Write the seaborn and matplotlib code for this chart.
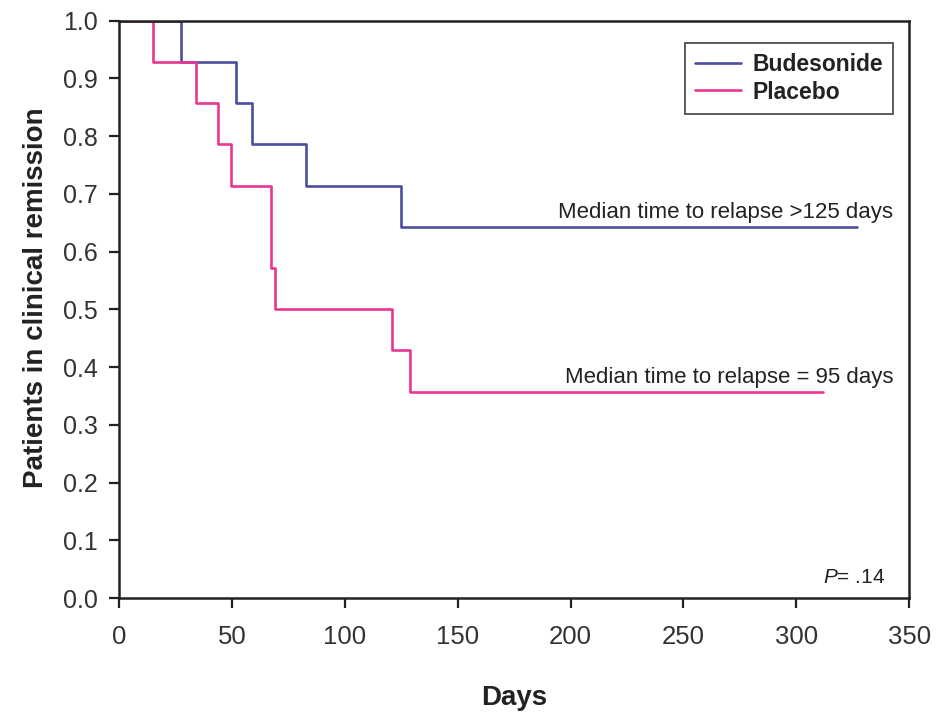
import matplotlib
matplotlib.use("Agg")
import matplotlib.pyplot as plt
import seaborn as sns
import pandas as pd

# ---- data ----
bud_days = [0, 27.5, 52, 59, 83, 125, 327]
bud_surv = [1.0, 0.929, 0.857, 0.786, 0.714, 0.643, 0.643]
pla_days = [0, 15, 34, 44, 49.5, 67.5, 69, 121, 129, 312]
pla_surv = [1.0, 0.929, 0.857, 0.786, 0.714, 0.571, 0.5, 0.429, 0.357, 0.357]
groups = ["Budesonide", "Placebo"]
colors = ["#4B4E9E", "#E8368F"]
x_ticks = [0, 50, 100, 150, 200, 250, 300, 350]
y_ticks = [0.0, 0.1, 0.2, 0.3, 0.4, 0.5, 0.6, 0.7, 0.8, 0.9, 1.0]

df = pd.concat([
    pd.DataFrame({"Days": bud_days, "Surv": bud_surv, "Group": groups[0]}),
    pd.DataFrame({"Days": pla_days, "Surv": pla_surv, "Group": groups[1]}),
], ignore_index=True)

sns.set_style("ticks")
plt.rcParams["font.family"] = ["Liberation Sans", "DejaVu Sans"]
plt.rcParams["mathtext.fontset"] = "custom"
plt.rcParams["mathtext.it"] = "Liberation Sans:italic"
plt.rcParams["mathtext.rm"] = "Liberation Sans"

fig = plt.figure(figsize=(9.52, 7.13), dpi=100)
ax = fig.add_axes([0.125, 0.161, 0.830, 0.810])

sns.lineplot(data=df, x="Days", y="Surv", hue="Group", palette=colors,
             estimator=None, sort=False, drawstyle="steps-post",
             linewidth=1.9, ax=ax)

ax.set_xlim(0, 350)
ax.set_ylim(0, 1.0)
ax.set_xticks(x_ticks)
ax.set_yticks(y_ticks)
ax.set_xticklabels([str(v) for v in x_ticks])
ax.set_yticklabels([f"{v:.1f}" for v in y_ticks])
ax.tick_params(axis="both", direction="out", length=7, width=1.6,
               colors="#222222", labelcolor="#333333")
ax.tick_params(axis="x", pad=12, labelsize=18.5)
ax.tick_params(axis="y", pad=8, labelsize=18)
for s in ax.spines.values():
    s.set_linewidth(1.8)
    s.set_color("#222222")

ax.set_xlabel("Days", fontsize=20, fontweight="bold", labelpad=26, color="#222222")
ax.set_ylabel("Patients in clinical remission", fontsize=20, fontweight="bold",
              color="#222222")
ax.yaxis.set_label_coords(-0.089, 0.52)

leg = ax.legend(loc="upper right", bbox_to_anchor=(0.98, 0.962), fontsize=16.5,
                frameon=True, fancybox=False, edgecolor="#222222",
                handlelength=2.0, borderpad=0.45, labelspacing=0.2,
                handletextpad=0.5, borderaxespad=0, title=None)
leg.get_frame().set_linewidth(1.3)
for t in leg.get_texts():
    t.set_fontweight("bold")
    t.set_color("#222222")
for h in leg.get_lines():
    h.set_linewidth(1.9)

ax.text(0.98, 0.668, "Median time to relapse >125 days", transform=ax.transAxes,
        ha="right", va="center", fontsize=16, color="#222222")
ax.text(0.98, 0.382, "Median time to relapse = 95 days", transform=ax.transAxes,
        ha="right", va="center", fontsize=16, color="#222222")
ax.text(0.97, 0.036, r"$\it{P}$= .14", transform=ax.transAxes,
        ha="right", va="center", fontsize=15, color="#222222")

fig.savefig("out.png", dpi=100)
